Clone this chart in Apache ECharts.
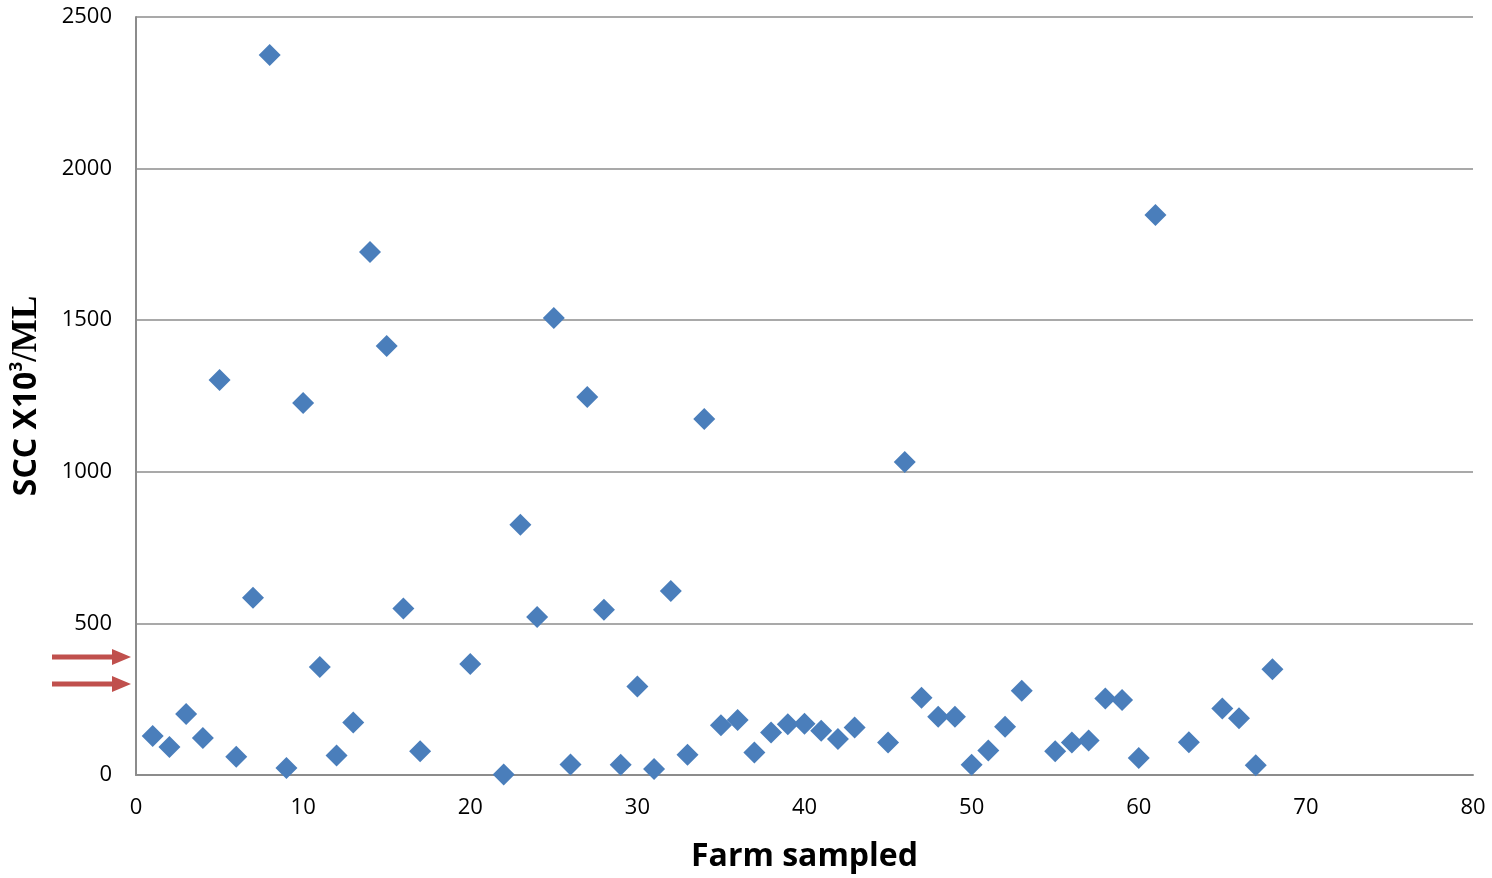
<!DOCTYPE html>
<html>
<head>
<meta charset="utf-8">
<script src="https://cdn.jsdelivr.net/npm/echarts@6/dist/echarts.min.js"></script>
<style>
  html, body { margin: 0; padding: 0; background: #fff; }
  #chart { width: 1492px; height: 878px; }
</style>
</head>
<body>
<div id="chart"></div>
<script>
  // farm number and SCC (x10^3 / ml)
  const farms = [1, 2, 3, 4, 5, 6, 7, 8, 9, 10, 11, 12, 13, 14, 15, 16, 17, 20, 22, 23,
    24, 25, 26, 27, 28, 29, 30, 31, 32, 33, 34, 35, 36, 37, 38, 39, 40, 41, 42, 43,
    45, 46, 47, 48, 49, 50, 51, 52, 53, 55, 56, 57, 58, 59, 60, 61, 63, 65, 66, 67, 68];
  const scc = [129, 92, 201, 122, 1303, 60, 585, 2375, 23, 1227, 356, 64, 173, 1725, 1415, 549, 78, 366, 2, 825,
    521, 1507, 35, 1247, 545, 34, 292, 20, 607, 67, 1174, 164, 181, 74, 140, 167, 169, 146, 119, 157,
    107, 1032, 255, 192, 192, 34, 81, 159, 278, 78, 107, 114, 252, 247, 56, 1847, 108, 219, 187, 32, 349];
  const xTicks = [0, 10, 20, 30, 40, 50, 60, 70, 80];
  const yTicks = [0, 500, 1000, 1500, 2000, 2500];

  const points = farms.map((f, i) => [f, scc[i]]);

  const chart = echarts.init(document.getElementById('chart'));

  // red arrows on the left (annotation)
  function arrow(y) {
    return {
      type: 'group',
      children: [
        { type: 'rect', shape: { x: 52, y: y - 2.5, width: 64, height: 5 },
          style: { fill: '#c0504d' } },
        { type: 'polygon', shape: { points: [[112, y - 8], [131, y], [112, y + 8]] },
          style: { fill: '#c0504d' } }
      ]
    };
  }

  chart.setOption({
    animation: false,
    grid: { left: 136, right: 19, top: 17, bottom: 103 },
    xAxis: {
      type: 'value',
      min: xTicks[0],
      max: xTicks[xTicks.length - 1],
      interval: 10,
      name: 'Farm sampled',
      nameLocation: 'middle',
      nameGap: 66,
      nameTextStyle: { fontFamily: 'Open Sans', fontWeight: 'bold', fontSize: 32, color: '#000' },
      axisLine: { show: true, lineStyle: { color: '#8c8c8c', width: 2 } },
      axisTick: { show: false },
      splitLine: { show: false },
      axisLabel: { fontFamily: 'Open Sans', fontSize: 22, color: '#000', margin: 22 }
    },
    yAxis: {
      type: 'value',
      min: yTicks[0],
      max: yTicks[yTicks.length - 1],
      interval: 500,
      name: '{a|SCC X10}{s|3}{b|/ML}',
      nameLocation: 'middle',
      nameGap: 92,
      nameRotate: 90,
      nameTextStyle: {
        rich: {
          a: { fontFamily: 'Open Sans', fontWeight: 'bold', fontSize: 32, color: '#000' },
          s: { fontFamily: 'Open Sans', fontWeight: 'bold', fontSize: 17, color: '#000', verticalAlign: 'top', padding: [0, 0, 14, 0] },
          b: { fontFamily: 'Liberation Serif', fontWeight: 'bold', fontSize: 35, color: '#000' }
        }
      },
      axisLine: { show: true, lineStyle: { color: '#8c8c8c', width: 2 } },
      axisTick: { show: false },
      splitLine: { show: true, lineStyle: { color: '#8c8c8c', width: 1.5 } },
      axisLabel: { fontFamily: 'Open Sans', fontSize: 22, color: '#000', margin: 24, formatter: v => String(v) }
    },
    graphic: [arrow(657), arrow(684)],
    series: [{
      type: 'scatter',
      data: points,
      symbol: 'diamond',
      symbolSize: 22,
      itemStyle: { color: '#4a7ebb', opacity: 1 }
    }]
  });
</script>
</body>
</html>
